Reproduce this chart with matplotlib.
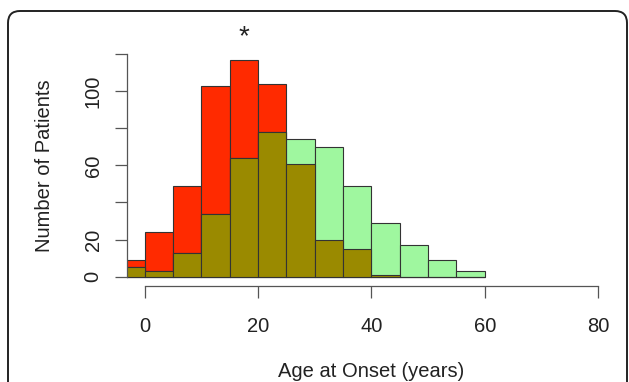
import matplotlib
matplotlib.use("Agg")
import matplotlib.pyplot as plt
import numpy as np
from matplotlib.patches import FancyBboxPatch

plt.rcParams["font.family"] = ["Liberation Sans", "DejaVu Sans"]

# ── data ──────────────────────────────────────────────────────────────────────
bin_left = [-5, 0, 5, 10, 15, 20, 25, 30, 35, 40, 45, 50, 55]
bin_width = 5
red_counts = [9, 24, 49, 103, 117, 104, 61, 20, 15, 1, 0, 0, 0]
green_counts = [5, 3, 13, 34, 64, 78, 74, 70, 49, 29, 17, 9, 3]
x_ticks = [0, 20, 40, 60, 80]
y_ticks = [0, 20, 40, 60, 80, 100, 120]
y_tick_labels = ["0", "20", "", "60", "", "100", ""]

RED = "#ff2a00"
GREEN = "#9ff79f"
OLIVE = "#9a8a00"
EDGE = "#333333"
AXIS = "#555555"
TEXT = "#222222"

fig = plt.figure(figsize=(6.29, 3.82), dpi=100)
fig.patch.set_facecolor("white")
ax = fig.add_axes([0.2014, 0.2524, 0.7784, 0.6293])

overlap = np.minimum(red_counts, green_counts)
for vals, col in ((red_counts, RED), (green_counts, GREEN), (overlap, OLIVE)):
    ax.bar(bin_left, vals, width=bin_width, align="edge", color=col,
           edgecolor=EDGE, linewidth=0.8)

ax.set_xlim(-3.2, 83.2)
ax.set_ylim(-4.8, 124.8)

for side in ("top", "right"):
    ax.spines[side].set_visible(False)
ax.spines["left"].set_bounds(0, 120)
ax.spines["bottom"].set_bounds(0, 80)
for side in ("left", "bottom"):
    ax.spines[side].set_color(AXIS)
    ax.spines[side].set_linewidth(0.9)

ax.set_xticks(x_ticks)
ax.set_xticklabels([str(t) for t in x_ticks])
ax.set_yticks(y_ticks)
ax.set_yticklabels(y_tick_labels, rotation=90, va="center")
ax.tick_params(axis="both", length=8.4, width=0.9, color=AXIS,
               labelsize=14.5, labelcolor=TEXT)
ax.tick_params(axis="x", pad=14)
ax.tick_params(axis="y", pad=9)

ax.set_xlabel("Age at Onset (years)", fontsize=14.5, color=TEXT, labelpad=19)
ax.set_ylabel("Number of Patients", fontsize=14.5, color=TEXT, labelpad=21)

# significance marker above the peak
ax.text(17.5, 129.2, "*", ha="center", va="center", fontsize=20,
        color=TEXT, clip_on=False)

# rounded frame around the panel
frame = FancyBboxPatch((8, -20), 619, 391, boxstyle="round,pad=0,rounding_size=12",
                       transform=None, fill=False, edgecolor=TEXT,
                       linewidth=1.4, clip_on=False)
fig.patches.append(frame)

fig.savefig("out.png", dpi=100, facecolor="white")
plt.close(fig)
